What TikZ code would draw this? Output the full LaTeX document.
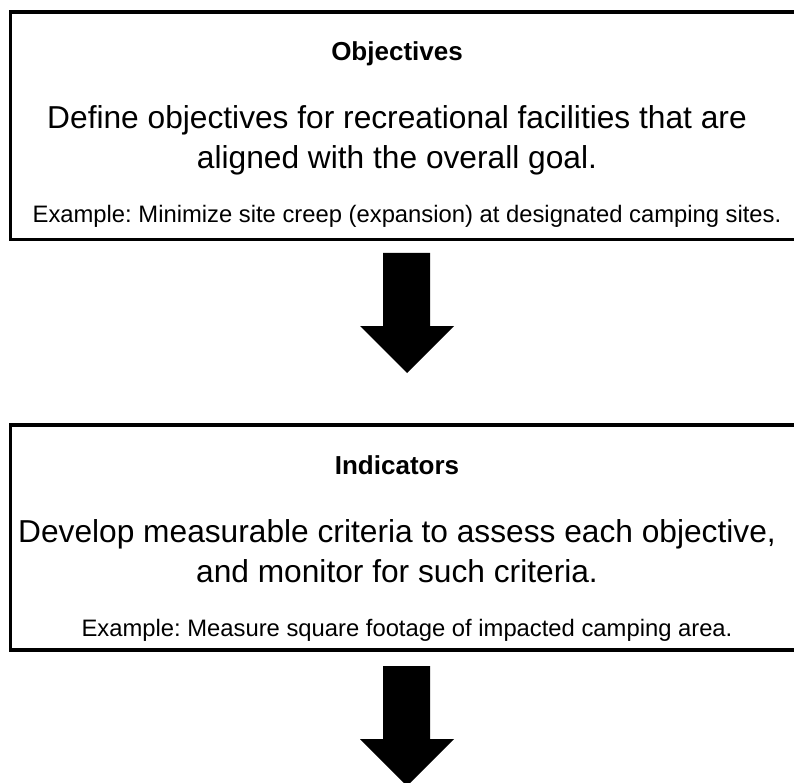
\documentclass[tikz,border=0pt]{standalone}
\usepackage{fontspec}
\setmainfont{Liberation Sans}
\frenchspacing
\tikzset{
  panel/.style={draw=black, line width=3.5pt},
  titletext/.style={anchor=base, inner sep=0pt, font=\fontsize{26}{30}\selectfont\bfseries},
  maintext/.style={anchor=base, inner sep=0pt, font=\fontsize{31.7}{38}\selectfont},
  exampletext/.style={anchor=base, inner sep=0pt, font=\fontsize{23.8}{28}\selectfont},
  blockarrow/.style={fill=black, draw=none}
}
\begin{document}
\begin{tikzpicture}[x=1pt,y=-1pt]
\useasboundingbox (0,0) rectangle (794,783);
\clip (0,0) rectangle (794,783);
% panel 1
\draw[panel] (10.3,12) rectangle (820,239.5);
\node[titletext] (obj) at (397,61) {Objectives};
\node[maintext] (obja) at (397,129) {Define objectives for recreational facilities that are};
\node[maintext] (objb) at (397,169) {aligned with the overall goal.};
\node[exampletext] (objex) at (407,223) {Example: Minimize site creep (expansion) at designated camping sites.};
% arrow 1
\fill[blockarrow] (383,253) -- (430,253) -- (430,326) -- (454,326) -- (407,373) -- (360,326) -- (383,326) -- cycle;
% panel 2
\draw[panel] (10.3,425) rectangle (820,650);
\node[titletext] (ind) at (397,474) {Indicators};
\node[maintext] (inda) at (397,542) {Develop measurable criteria to assess each objective,};
\node[maintext] (indb) at (397,582) {and monitor for such criteria.};
\node[exampletext] (index) at (407,636) {Example: Measure square footage of impacted camping area.};
% arrow 2
\fill[blockarrow] (383,666) -- (430,666) -- (430,739) -- (454,739) -- (407,786) -- (360,739) -- (383,739) -- cycle;
\end{tikzpicture}
\end{document}
